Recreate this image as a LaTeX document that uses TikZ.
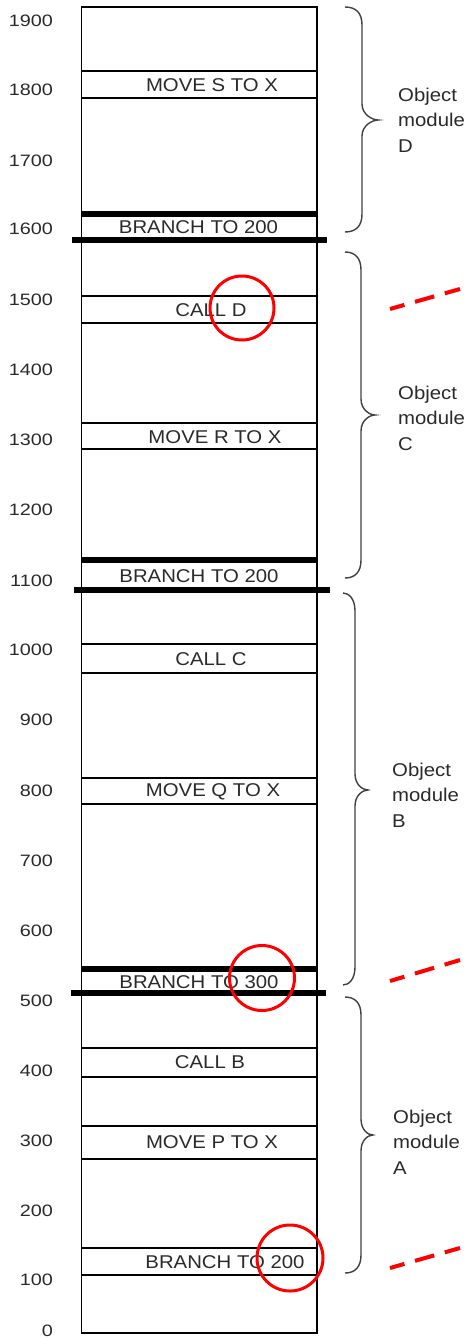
\documentclass[tikz,border=0pt]{standalone}
\usepackage{fontspec}
\setmainfont{Liberation Sans}
\newfontfamily\boxfont{Liberation Sans}[FakeStretch=1.1]
\newfontfamily\numfont{Liberation Sans}[FakeStretch=1.2]
\definecolor{txt}{HTML}{2A2A2A}
\newcommand\modbrace[6]{%
  \draw[bracestyle] (#1,#4) .. controls (#2-6,#4) and (#2,#4+6) .. (#2,#4+18)
    -- (#2,#5-16) .. controls (#2,#5-5) and (#3-5,#5) .. (#3,#5)
    .. controls (#3-5,#5) and (#2,#5+5) .. (#2,#5+16)
    -- (#2,#6-18) .. controls (#2,#6-6) and (#2-6,#6) .. (#1,#6);}
\begin{document}
\begin{tikzpicture}[x=1pt,y=-1pt,
  thin/.style={line width=1.4pt, black},
  thickbar/.style={line width=5.5pt, black},
  lbl/.style={font=\boxfont\fontsize{18.5}{22}\selectfont, text=txt, inner sep=0pt},
  num/.style={font=\numfont\fontsize{16.5}{20}\selectfont, text=txt, anchor=east, inner sep=0pt},
  modlbl/.style={font=\boxfont\fontsize{18.5}{25.5}\selectfont, text=txt, align=left, anchor=west, inner sep=0pt},
  redring/.style={draw=red, line width=3pt},
  reddash/.style={draw=red, line width=4pt, dash pattern=on 20pt off 11pt, dash phase=5pt},
  bracestyle/.style={draw=black!75, line width=1.4pt}]
\useasboundingbox (0,0) rectangle (468,1339);
% column
\draw[thin] (81.5,7) rectangle (317,1333);
\foreach \yy in {71,98,296,323,423,449,644,673,778,804,1048,1077,1126,1159,1248,1275}
  \draw[thin] (81.5,\yy) -- (317,\yy);
% thick bars
\foreach \yy in {214,560,969}
  \draw[thickbar] (81,\yy) -- (317,\yy);
\draw[thickbar] (71.5,240) -- (326.5,240);
\draw[thickbar] (74,590) -- (330,590);
\draw[thickbar] (70.5,993) -- (326,993);
% box texts
\node[lbl] (ms) at (212,85) {MOVE S TO X};
\node[lbl] (b1) at (198.5,227) {BRANCH TO 200};
\node[lbl] (cd) at (211,310) {CALL D};
\node[lbl] (mr) at (215,437) {MOVE R TO X};
\node[lbl] (b2) at (199,576) {BRANCH TO 200};
\node[lbl] (cc) at (211,659) {CALL C};
\node[lbl] (mq) at (213,792) {MOVE Q TO X};
\node[lbl] (b3) at (199,982) {BRANCH TO 300};
\node[lbl] (cb) at (210,1062) {CALL B};
\node[lbl] (mp) at (212,1142) {MOVE P TO X};
\node[lbl] (b4) at (225,1262) {BRANCH TO 200};
% axis numbers
\foreach \v/\yy in {1900/21,1800/90,1700/161,1600/229,1500/300,1400/370,1300/440,1200/510,1100/581,1000/650,900/720,800/791,700/861,600/931,500/1001,400/1071,300/1141,200/1211,100/1280,0/1331}
  \node[num] (n\v) at (53,\yy) {\v};
% braces
\modbrace{345}{362}{378}{7}{120}{232}
\modbrace{345}{361}{375}{252}{415}{578}
\modbrace{343}{355}{368}{593}{790}{985}
\modbrace{345}{361}{373}{997}{1135}{1273}
\node[modlbl] (md) at (398,120) {Object\\module\\D};
\node[modlbl] (mc) at (398,418) {Object\\module\\C};
\node[modlbl] (mb) at (392,795) {Object\\module\\B};
\node[modlbl] (ma) at (393,1142) {Object\\module\\A};
% red marks
\draw[redring] (242,308) circle[radius=32pt];
\draw[redring] (262,978) circle[radius=32.5pt];
\draw[redring] (290,1258) circle[radius=33pt];
\coordinate (d1a) at (390,309); \coordinate (d1b) at (460,289);
\coordinate (d2a) at (390,981); \coordinate (d2b) at (460,960);
\coordinate (d3a) at (390,1268); \coordinate (d3b) at (460,1248);
\draw[reddash] (d1a) -- (d1b);
\draw[reddash] (d2a) -- (d2b);
\draw[reddash] (d3a) -- (d3b);
\end{tikzpicture}
\end{document}
